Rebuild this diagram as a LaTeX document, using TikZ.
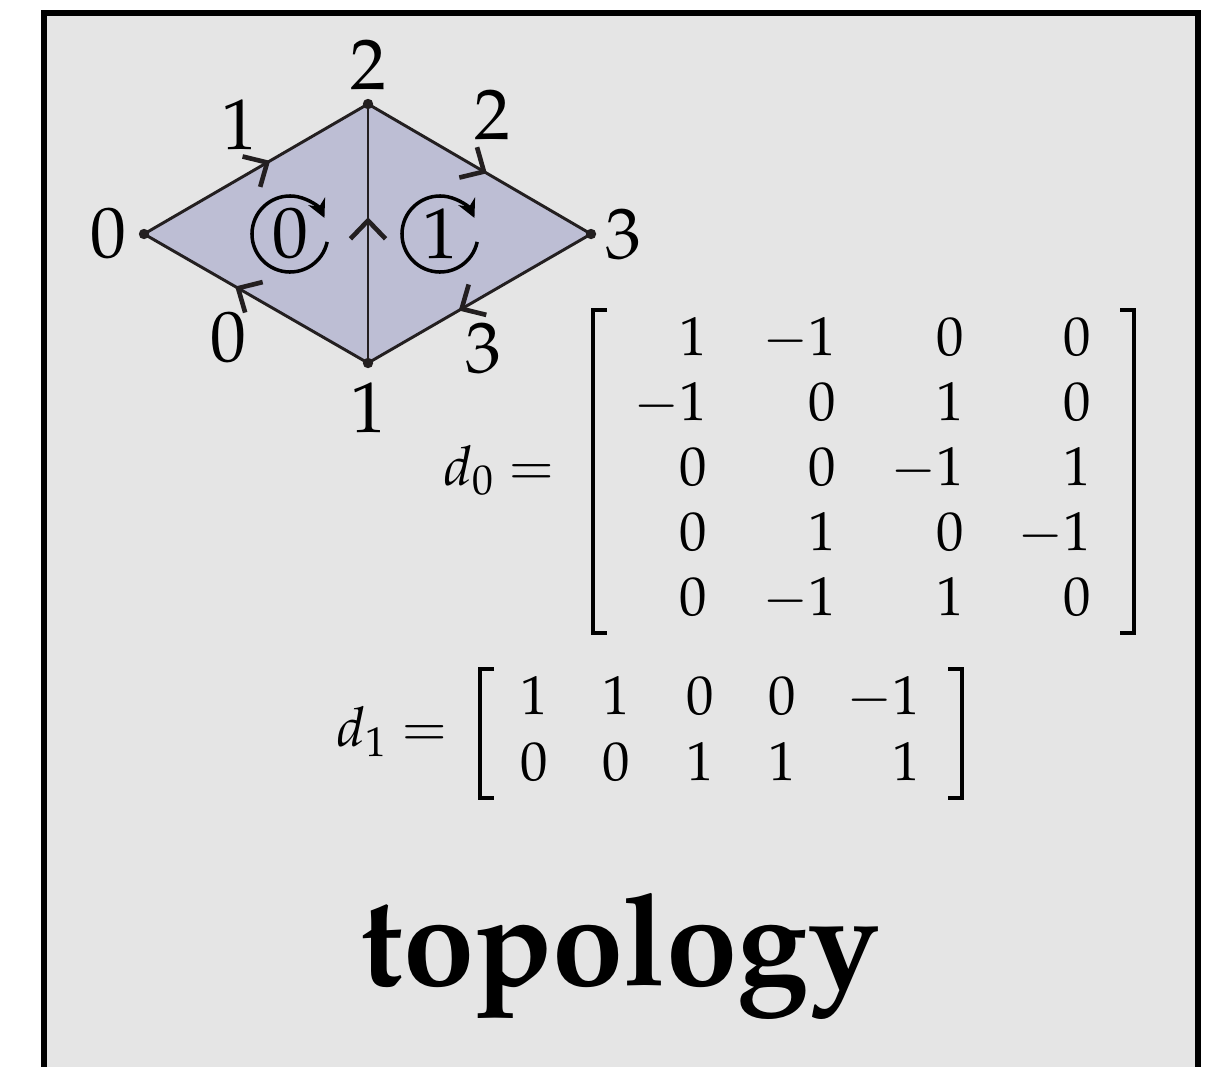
\documentclass[tikz,border=0pt]{standalone}
\usepackage{mathpazo}
\usetikzlibrary{arrows.meta,decorations.markings}
\definecolor{bggray}{HTML}{E5E5E5}
\definecolor{facefill}{HTML}{BDBED4}
\definecolor{edgecol}{HTML}{231F20}
\begin{document}
\begin{tikzpicture}[x=0.025cm,y=-0.025cm,
  lab/.style={inner sep=0pt, font=\fontsize{51}{61}\selectfont},
  entry/.style={anchor=base east, inner sep=0pt, font=\fontsize{39}{47}\selectfont},
  eqlab/.style={anchor=base east, inner sep=0pt, font=\fontsize{39}{47}\selectfont},
  edge/.style={draw=edgecol, line width=2.1pt},
  midarr/.style={postaction={decorate}, decoration={markings, mark=at position #1 with {\draw[edgecol, line width=3.3pt] (-13pt,12.5pt) -- (0pt,0pt) -- (-13pt,-12.5pt);}}},
  brk/.style={line width=2.4pt, draw=black},
  circarr/.style={line width=2.5pt, draw=black, -{Stealth[length=13pt,width=13pt]}}
]
\useasboundingbox (0,0) rectangle (1209,1066);
\draw[line width=4.3pt, fill=bggray] (44,13) rectangle (1198,1100);

% vertices
\coordinate (v0) at (144,234);
\coordinate (v2) at (368,104);
\coordinate (v3) at (591,234);
\coordinate (v1) at (368,363);

\fill[facefill] (v0) -- (v2) -- (v3) -- (v1) -- cycle;

\draw[edge, midarr=0.55] (v0) -- (v2);
\draw[edge, midarr=0.52] (v2) -- (v3);
\draw[edge, midarr=0.58] (v3) -- (v1);
\draw[edge, midarr=0.58] (v1) -- (v0);
\draw[edge, midarr=0.55] (v1) -- (v2);

\foreach \v in {v0,v1,v2,v3} \fill[edgecol] (\v) circle[radius=0.13cm];

% vertex labels
\node[lab] (l0) at (108,234) {$0$};
\node[lab] (l1) at (368,408) {$1$};
\node[lab] (l2) at (368,65) {$2$};
\node[lab] (l3) at (623,235) {$3$};

% edge labels
\node[lab] (e1) at (239,125) {$1$};
\node[lab] (e2) at (492,115) {$2$};
\node[lab] (e0) at (228,338) {$0$};
\node[lab] (e3) at (483,349) {$3$};

% faces
\node[lab] (f0) at (290,234) {$0$};
\node[lab] (f1) at (440,234) {$1$};
\draw[circarr] (f0) ++(-12:0.95cm) arc[start angle=-12, end angle=-335, radius=0.95cm];
\draw[circarr] (f1) ++(-12:0.95cm) arc[start angle=-12, end angle=-335, radius=0.95cm];

% d0 matrix
\node[eqlab] (d0lab) at (555,485) {$d_0 =$};
\foreach \r/\a/\b/\c/\d in {1/1/-1/0/0, 2/-1/0/1/0, 3/0/0/-1/1, 4/0/1/0/-1, 5/0/-1/1/0} {
  \node[entry] (m\r a) at (707, 290+65*\r) {$\a$};
  \node[entry] (m\r b) at (836, 290+65*\r) {$\b$};
  \node[entry] (m\r c) at (964, 290+65*\r) {$\c$};
  \node[entry] (m\r d) at (1091, 290+65*\r) {$\d$};
}
\draw[brk] (607,310) -- (593,310) -- (593,633) -- (607,633);
\draw[brk] (1120,310) -- (1134,310) -- (1134,633) -- (1120,633);

% d1 matrix
\node[eqlab] (d1lab) at (448,746) {$d_1 =$};
\foreach \r/\a/\b/\c/\d/\e in {1/1/1/0/0/-1, 2/0/0/1/1/1} {
  \node[entry] (n\r a) at (548, 648+66*\r) {$\a$};
  \node[entry] (n\r b) at (630, 648+66*\r) {$\b$};
  \node[entry] (n\r c) at (714, 648+66*\r) {$\c$};
  \node[entry] (n\r d) at (796, 648+66*\r) {$\d$};
  \node[entry] (n\r e) at (920, 648+66*\r) {$\e$};
}
\draw[brk] (494,669) -- (480,669) -- (480,798) -- (494,798);
\draw[brk] (948,669) -- (962,669) -- (962,798) -- (948,798);

% title
\node[anchor=base, inner sep=0pt, font=\fontencoding{OT1}\fontfamily{ppl}\fontseries{b}\fontshape{n}\fontsize{91}{108}\selectfont] (title) at (620,985) {topology};
\end{tikzpicture}
\end{document}
